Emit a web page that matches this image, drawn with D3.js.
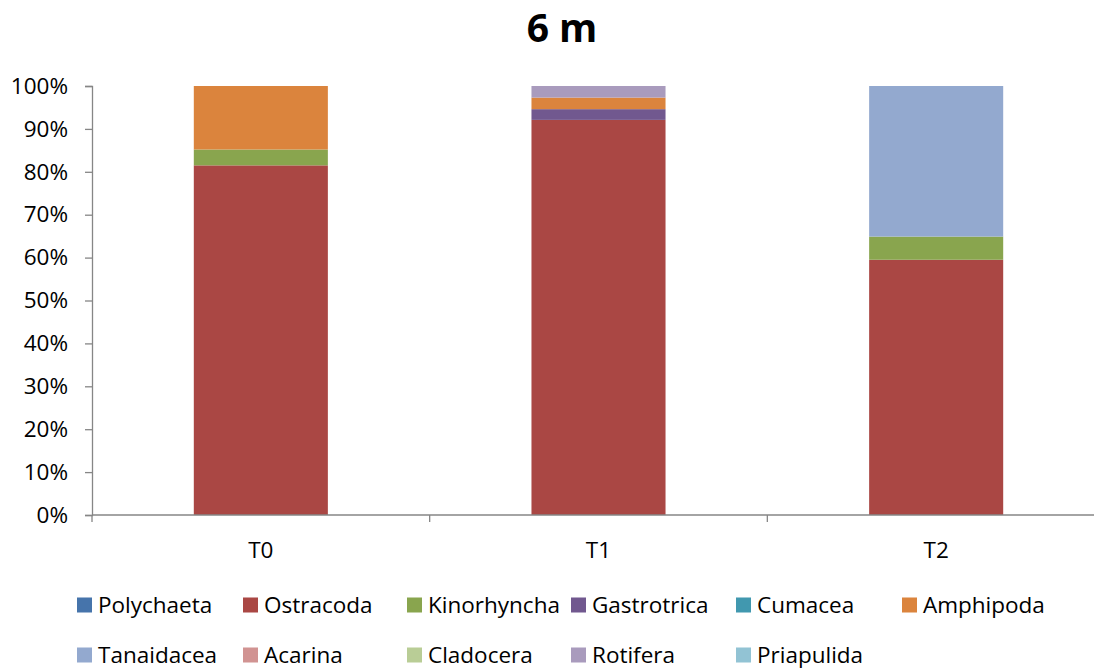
<!DOCTYPE html>
<html>
<head>
<meta charset="utf-8">
<script src="https://cdn.jsdelivr.net/npm/d3@7"></script>
<style>
  html, body { margin: 0; padding: 0; background: #fff; }
  svg { display: block; font-family: "Open Sans", sans-serif; }
</style>
</head>
<body>
<svg id="chart" width="1094" height="671"></svg>
<script>
// Sampling times along the x axis
const categories = ["T0", "T1", "T2"];

// Taxa in stacking / legend order
const taxa = ["Polychaeta", "Ostracoda", "Kinorhyncha", "Gastrotrica", "Cumacea", "Amphipoda",
              "Tanaidacea", "Acarina", "Cladocera", "Rotifera", "Priapulida"];

// Relative abundance (%) per taxon at T0, T1, T2
const polychaeta  = [0, 0, 0];
const ostracoda   = [81.5, 92.1, 59.5];
const kinorhyncha = [3.7, 0, 5.4];
const gastrotrica = [0, 2.5, 0];
const cumacea     = [0, 0, 0];
const amphipoda   = [14.8, 2.7, 0];
const tanaidacea  = [0, 0, 35.1];
const acarina     = [0, 0, 0];
const cladocera   = [0, 0, 0];
const rotifera    = [0, 2.7, 0];
const priapulida  = [0, 0, 0];

const yTicks = [0, 10, 20, 30, 40, 50, 60, 70, 80, 90, 100];

const colors = ["#4674AB", "#AA4744", "#89A54E", "#71588F", "#4198AF", "#DB843D",
                "#93A9CF", "#D19392", "#B9CD96", "#A99BBD", "#92C3D4"];

const seriesValues = [polychaeta, ostracoda, kinorhyncha, gastrotrica, cumacea, amphipoda,
                      tanaidacea, acarina, cladocera, rotifera, priapulida];

const rows = categories.map((c, i) => {
  const r = { cat: c };
  taxa.forEach((t, k) => { r[t] = seriesValues[k][i]; });
  return r;
});

const svg = d3.select("#chart");
const margin = { left: 92, right: -11, top: 86, bottom: 156 };
const W = 1094, H = 671;
const fontSize = "22.5px";

const x = d3.scaleBand().domain(categories)
  .range([margin.left, W - margin.right])
  .paddingInner(0.603).paddingOuter(0.3015);
const y = d3.scaleLinear().domain([0, 100]).range([H - margin.bottom, margin.top]);

const stacked = d3.stack().keys(taxa)(rows);

// Bars
svg.append("g").selectAll("g")
  .data(stacked).join("g")
  .attr("fill", (d, i) => colors[i])
  .selectAll("rect")
  .data(d => d).join("rect")
  .attr("x", d => x(d.data.cat))
  .attr("width", x.bandwidth())
  .attr("y", d => y(d[1]))
  .attr("height", d => y(d[0]) - y(d[1]));

const axisColor = "#868686";

// Y axis
const yAxis = svg.append("g")
  .attr("transform", `translate(${margin.left},0)`)
  .call(d3.axisLeft(y).tickValues(yTicks).tickSize(7).tickPadding(17)
        .tickFormat(d => d + "%"));
yAxis.select(".domain").attr("stroke", axisColor).attr("stroke-width", 1.3);
yAxis.selectAll(".tick line").attr("stroke", axisColor).attr("stroke-width", 1.3);
yAxis.selectAll(".tick text").attr("fill", "#000").style("font-size", fontSize)
  .style("font-family", "'Open Sans', sans-serif");

// X axis line with boundary ticks between categories
const x0 = margin.left, x1 = W - margin.right;
const step = x.step();
const xg = svg.append("g");
xg.append("line").attr("x1", x0).attr("x2", x1)
  .attr("y1", y(0)).attr("y2", y(0))
  .attr("stroke", axisColor).attr("stroke-width", 1.3);
const boundaries = d3.range(categories.length + 1).map(i => x0 + i * step);
xg.selectAll("line.tk").data(boundaries).join("line")
  .attr("class", "tk")
  .attr("x1", d => d).attr("x2", d => d)
  .attr("y1", y(0)).attr("y2", y(0) + 7)
  .attr("stroke", axisColor).attr("stroke-width", 1.3);
xg.selectAll("text").data(categories).join("text")
  .attr("x", d => x(d) + x.bandwidth() / 2)
  .attr("y", y(0) + 43)
  .attr("text-anchor", "middle")
  .style("font-size", fontSize)
  .text(d => d);

// Title
svg.append("text")
  .attr("x", 562).attr("y", 42)
  .attr("text-anchor", "middle")
  .style("font-size", "39px").style("font-weight", "bold")
  .text("6 m");

// Legend: two rows, six columns
const legend = svg.append("g");
const colX = [77, 243, 407, 571, 736, 902];
const rowY = [605, 655];
taxa.forEach((t, i) => {
  const r = Math.floor(i / 6), c = i % 6;
  const g = legend.append("g").attr("transform", `translate(${colX[c]},${rowY[r]})`);
  g.append("rect").attr("x", 0).attr("y", -7.5).attr("width", 15).attr("height", 15)
    .attr("fill", colors[i]);
  g.append("text").attr("x", 21).attr("y", 8)
    .style("font-size", fontSize).text(t);
});
</script>
</body>
</html>
